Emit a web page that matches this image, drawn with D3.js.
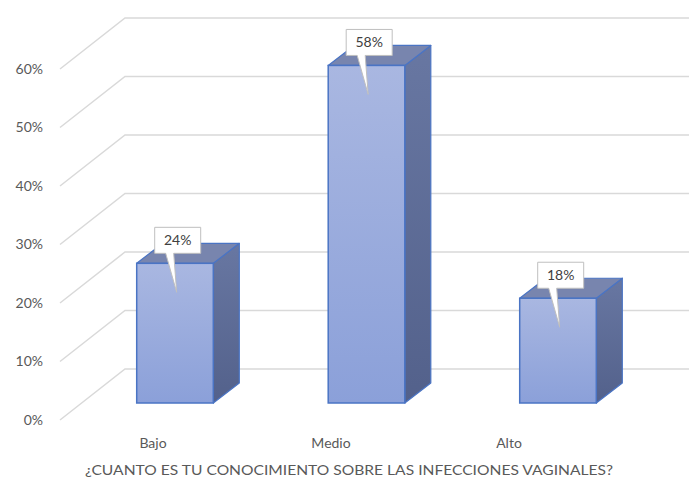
<!DOCTYPE html>
<html>
<head>
<meta charset="utf-8">
<script src="https://cdn.jsdelivr.net/npm/d3@7"></script>
<style>
  html, body { margin: 0; padding: 0; background: #ffffff; }
  svg { display: block; font-family: Lato, "Liberation Sans", sans-serif; }
</style>
</head>
<body>
<svg id="chart" width="689" height="479"></svg>
<script>
// Chart data
const categories = ["Bajo", "Medio", "Alto"];
const values = [0.24, 0.58, 0.18];
const valueLabels = ["24%", "58%", "18%"];
const tickValues = [0, 0.1, 0.2, 0.3, 0.4, 0.5, 0.6];
const tickLabels = ["0%", "10%", "20%", "30%", "40%", "50%", "60%"];
const axisTitle = "¿CUANTO ES TU CONOCIMIENTO SOBRE LAS INFECCIONES VAGINALES?";

const svg = d3.select("#chart");

// Oblique 3D projection: floor/wall depth and bar depth offsets
const wallDX = 65, wallDY = -51;
const barDX = 26, barDY = -20;

// Front-plane value scale (gridline front ends and tick labels)
const yFront = d3.scaleLinear().domain([0, 0.6]).range([420, 69]);
// Value scale at the bars' front plane
const yBar = d3.scaleLinear().domain([0, 0.6]).range([403, 53.8]);
// Category centers at the bars' front plane
const xBar = d3.scalePoint().domain(categories).range([79.25, 653.75]).padding(0.5);
// Category label positions along the floor's front edge
const xLabel = d3.scalePoint().domain(categories).range([64, 598]).padding(0.5);
const barW = xBar.step() * 0.4;

const defs = svg.append("defs");
const gFront = defs.append("linearGradient").attr("id", "gFront")
  .attr("x1", 0).attr("y1", 0).attr("x2", 0).attr("y2", 1);
gFront.append("stop").attr("offset", "0%").attr("stop-color", "#a9b7e1");
gFront.append("stop").attr("offset", "100%").attr("stop-color", "#8ba0d9");
const gSide = defs.append("linearGradient").attr("id", "gSide")
  .attr("x1", 0).attr("y1", 0).attr("x2", 0).attr("y2", 1);
gSide.append("stop").attr("offset", "0%").attr("stop-color", "#6877a2");
gSide.append("stop").attr("offset", "100%").attr("stop-color", "#53618b");

// Gridlines: diagonal on the side wall, horizontal on the back wall
const x0 = 60;
const grid = svg.append("g").attr("stroke", "#d9d9d9").attr("stroke-width", 1.5).attr("fill", "none");
grid.selectAll("path").data(tickValues).join("path")
  .attr("d", t => {
    const yf = yFront(t);
    return `M${x0},${yf} L${x0 + wallDX},${yf + wallDY} H689`;
  });

// Tick labels
svg.append("g").selectAll("text").data(tickValues).join("text")
  .attr("x", 43)
  .attr("y", t => yFront(t) + 1)
  .attr("text-anchor", "end")
  .attr("dominant-baseline", "middle")
  .attr("font-size", 14)
  .attr("fill", "#595959")
  .text((t, i) => tickLabels[i]);

// 3D bars
const bars = svg.append("g").selectAll("g").data(categories).join("g");
bars.each(function (c, i) {
  const g = d3.select(this);
  const l = xBar(c) - barW / 2, r = xBar(c) + barW / 2;
  const top = yBar(values[i]), bot = yBar(0);
  // side face
  g.append("path")
    .attr("d", `M${r},${top} L${r + barDX},${top + barDY} L${r + barDX},${bot + barDY} L${r},${bot} Z`)
    .attr("fill", "url(#gSide)").attr("stroke", "#4a74c4").attr("stroke-width", 1.2)
    .attr("stroke-linejoin", "round");
  // top face
  g.append("path")
    .attr("d", `M${l},${top} L${l + barDX},${top + barDY} L${r + barDX},${top + barDY} L${r},${top} Z`)
    .attr("fill", "#7885ae").attr("stroke", "#4a74c4").attr("stroke-width", 1.2)
    .attr("stroke-linejoin", "round");
  // front face
  g.append("rect")
    .attr("x", l).attr("y", top).attr("width", r - l).attr("height", bot - top)
    .attr("fill", "url(#gFront)").attr("stroke", "#4a74c4").attr("stroke-width", 1.5);
});

// Value callouts
const callouts = svg.append("g").selectAll("g").data(categories).join("g");
callouts.each(function (c, i) {
  const g = d3.select(this);
  const top = yBar(values[i]);
  const bl = xBar(c) - barW / 2 + 18;
  const bw = 46, bt = top - 36, bb = top - 10;
  const tipY = top + 29;
  g.append("path")
    .attr("d", `M${bl},${bt} H${bl + bw} V${bb} H${bl + 19} L${bl + 22},${tipY} L${bl + 11},${bb} H${bl} Z`)
    .attr("fill", "#ffffff").attr("stroke", "#bfbfbf").attr("stroke-width", 1);
  g.append("text")
    .attr("x", bl + bw / 2).attr("y", (bt + bb) / 2 + 1)
    .attr("text-anchor", "middle").attr("dominant-baseline", "middle")
    .attr("font-size", 14).attr("fill", "#404040")
    .text(valueLabels[i]);
});

// Category labels
svg.append("g").selectAll("text").data(categories).join("text")
  .attr("x", c => xLabel(c))
  .attr("y", 448)
  .attr("text-anchor", "middle")
  .attr("font-size", 14)
  .attr("fill", "#595959")
  .text(c => c);

// Axis title
svg.append("text")
  .attr("x", 349).attr("y", 475)
  .attr("text-anchor", "middle")
  .attr("font-size", 14)
  .attr("fill", "#595959")
  .attr("textLength", 528).attr("lengthAdjust", "spacingAndGlyphs")
  .text(axisTitle);
</script>
</body>
</html>
